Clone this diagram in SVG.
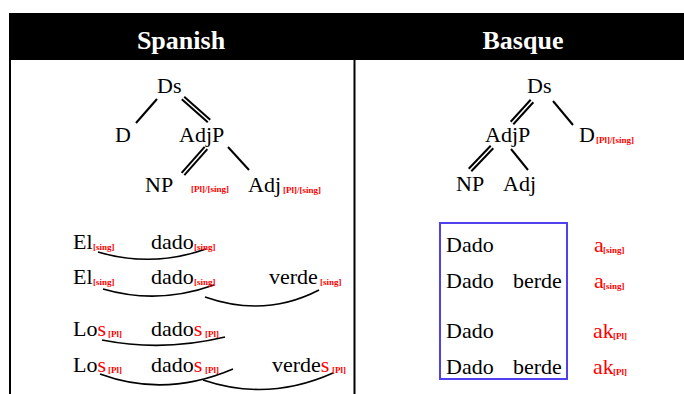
<svg xmlns="http://www.w3.org/2000/svg" width="684" height="394" viewBox="0 0 684 394">
<style>
.t{font-family:"Liberation Serif","Times New Roman",serif;font-size:22px;fill:#000}
.h{font-family:"Liberation Serif","Times New Roman",serif;font-size:26px;font-weight:bold;fill:#fff}
.sub{font-family:"Liberation Serif","Times New Roman",serif;font-size:9px;font-weight:bold;fill:#f00}
.r{fill:#f00}
.ln{stroke:#000;stroke-width:2;fill:none}
.arc{stroke:#000;stroke-width:1.6;fill:none}
</style>
<rect width="684" height="394" fill="#fff"/>
<g id="frame">
<rect x="9" y="13" width="675" height="47" fill="#000"/>
<line x1="10" y1="60" x2="10" y2="394" stroke="#000" stroke-width="2"/>
<line x1="354.5" y1="60" x2="354.5" y2="394" stroke="#000" stroke-width="2"/>
<text class="h" x="181" y="49" text-anchor="middle">Spanish</text>
<text class="h" x="523" y="49" text-anchor="middle">Basque</text>
</g>
<g id="connectors">
<line class="ln" x1="157" y1="99" x2="136" y2="123"/>
<line class="ln" x1="181.8" y1="99.35" x2="207.8" y2="122.35"/>
<line class="ln" x1="184.2" y1="96.65" x2="210.2" y2="119.65"/>
<line class="ln" x1="207.35" y1="149.2" x2="184.35" y2="175.2"/>
<line class="ln" x1="204.65" y1="146.8" x2="181.65" y2="172.8"/>
<line class="ln" x1="228" y1="147" x2="249" y2="170"/>
<line class="ln" x1="533.33" y1="102.21" x2="513.33" y2="124.21"/>
<line class="ln" x1="530.67" y1="99.79" x2="510.67" y2="121.79"/>
<line class="ln" x1="553" y1="101" x2="573" y2="125"/>
<line class="ln" x1="493.3" y1="148.24" x2="471.3" y2="171.24"/>
<line class="ln" x1="490.7" y1="145.76" x2="468.7" y2="168.76"/>
<line class="ln" x1="511" y1="149" x2="528" y2="170"/>
<path class="arc" d="M98,252 Q152,268 206,249"/>
<path class="arc" d="M103,289 Q158,305 214,285"/>
<path class="arc" d="M205,297 Q265,318 319,290"/>
<path class="arc" d="M102,340 Q163,352 225,337"/>
<path class="arc" d="M100,374 Q165,398 233,369"/>
<path class="arc" d="M203,380 Q268,402 333,373"/>
</g>
<g id="sp-Ds"><text class="t" x="157" y="93">Ds</text></g>
<g id="sp-D"><text class="t" x="115" y="142">D</text></g>
<g id="sp-AdjP"><text class="t" x="179" y="142">AdjP</text></g>
<g id="sp-NP"><text class="t" x="145" y="192">NP</text><text class="sub" x="191" y="192">[Pl]/[sing]</text></g>
<g id="sp-Adj"><text class="t" x="248" y="192">Adj</text><text class="sub" x="283" y="193">[Pl]/[sing]</text></g>
<g id="eu-Ds"><text class="t" x="527" y="93">Ds</text></g>
<g id="eu-D"><text class="t" x="579" y="142">D</text><text class="sub" x="596" y="143">[Pl]/[sing]</text></g>
<g id="eu-AdjP"><text class="t" x="485" y="142">AdjP</text></g>
<g id="eu-NP"><text class="t" x="456" y="191">NP</text></g>
<g id="eu-Adj"><text class="t" x="503" y="191">Adj</text></g>
<g id="sp-row1">
<text class="t" x="73" y="249">El</text><text class="sub" x="93" y="250">[sing]</text>
<text class="t" x="151" y="249">dado</text><text class="sub" x="194" y="250">[sing]</text>
</g>
<g id="sp-row2">
<text class="t" x="73" y="284">El</text><text class="sub" x="93" y="285">[sing]</text>
<text class="t" x="151" y="284">dado</text><text class="sub" x="194" y="285">[sing]</text>
<text class="t" x="269" y="284">verde</text><text class="sub" x="320" y="285">[sing]</text>
</g>
<g id="sp-row3">
<text class="t" x="73" y="336">Lo<tspan class="r">s</tspan></text><text class="sub" x="108" y="337">[Pl]</text>
<text class="t" x="151" y="336">dado<tspan class="r">s</tspan></text><text class="sub" x="205" y="337">[Pl]</text>
</g>
<g id="sp-row4">
<text class="t" x="73" y="372">Lo<tspan class="r">s</tspan></text><text class="sub" x="108" y="373">[Pl]</text>
<text class="t" x="151" y="372">dado<tspan class="r">s</tspan></text><text class="sub" x="205" y="373">[Pl]</text>
<text class="t" x="272" y="372">verde<tspan class="r">s</tspan></text><text class="sub" x="332" y="373">[Pl]</text>
</g>
<g id="eu-box">
<rect x="440" y="223" width="127" height="156" fill="none" stroke="#5040ee" stroke-width="2"/>
<text class="t" x="446" y="252">Dado</text>
<text class="t" x="446" y="288">Dado</text><text class="t" x="513" y="288">berde</text>
<text class="t" x="446" y="338">Dado</text>
<text class="t" x="446" y="374">Dado</text><text class="t" x="513" y="374">berde</text>
</g>
<g id="eu-suffix">
<text class="t r" x="594" y="252">a</text><text class="sub" x="603" y="253">[sing]</text>
<text class="t r" x="594" y="288">a</text><text class="sub" x="603" y="289">[sing]</text>
<text class="t r" x="593" y="338">ak</text><text class="sub" x="613" y="339">[Pl]</text>
<text class="t r" x="593" y="374">ak</text><text class="sub" x="613" y="375">[Pl]</text>
</g>
</svg>
